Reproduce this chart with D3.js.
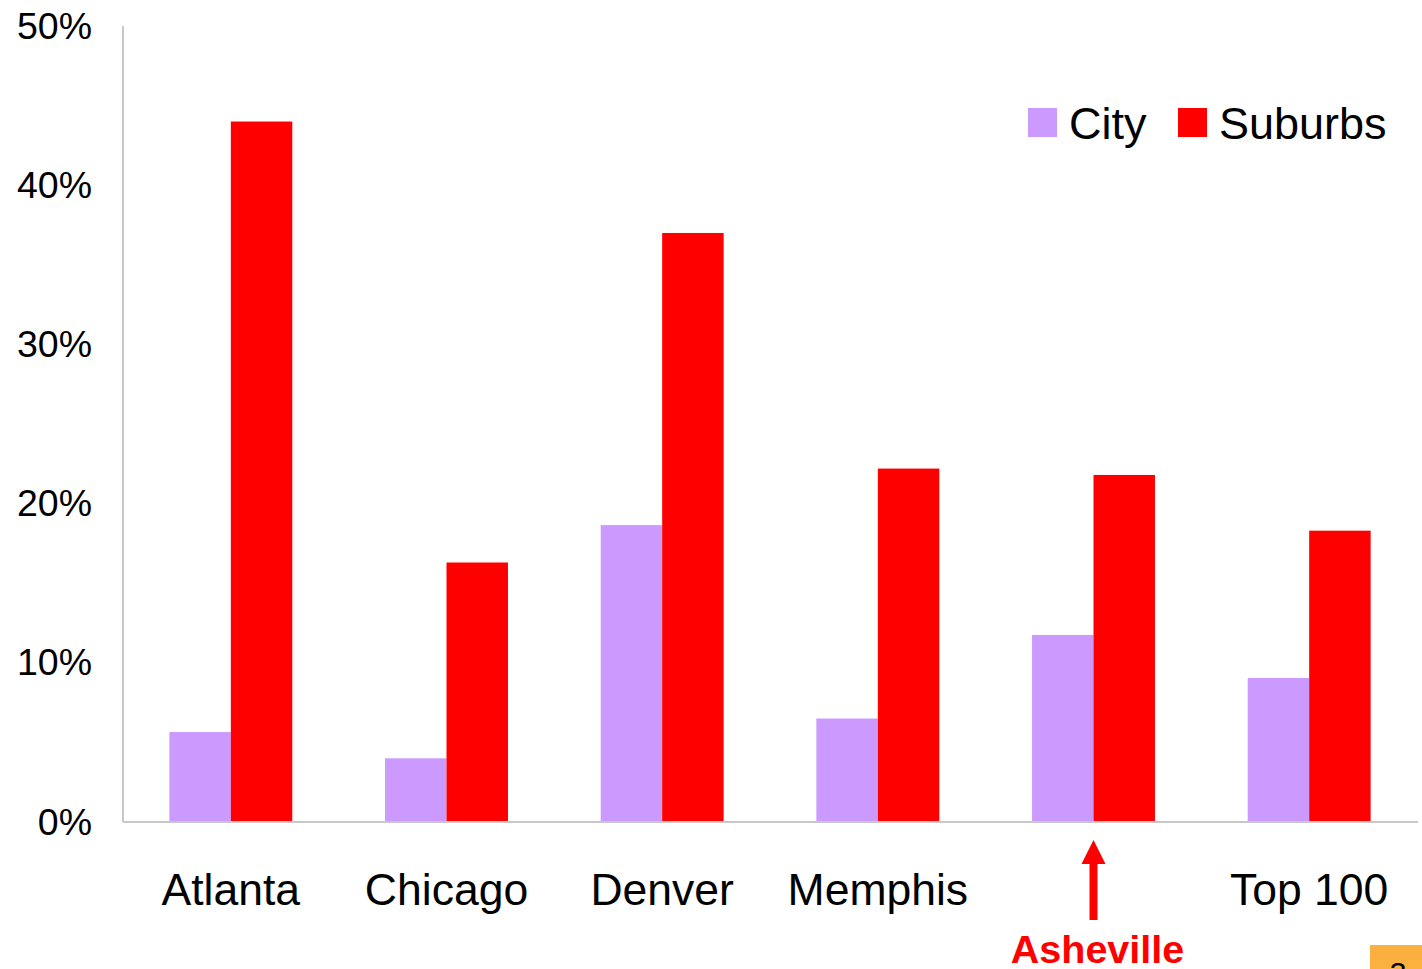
<!DOCTYPE html>
<html>
<head>
<meta charset="utf-8">
<script src="https://cdn.jsdelivr.net/npm/d3@7"></script>
<style>
    body {margin: 0; background: #fff;}
    #chart {font-family: "Liberation Sans", Arial, sans-serif;}
    .y-axis path, .x-axis path {stroke: #c8c8c8; stroke-width: 2px;}
    .y-axis text {font-size: 37.5px; fill: #000;}
    .x-axis text {font-size: 44.5px; fill: #000;}
</style>
</head>
<body>
<div id="chart"></div>
<script>

    let categories = ["Atlanta", "Chicago", "Denver", "Memphis", "Asheville", "Top 100"];
    let axisLabels = ["Atlanta", "Chicago", "Denver", "Memphis", "", "Top 100"];
    let cityValues = [5.65, 4.0, 18.65, 6.5, 11.75, 9.05];
    let suburbValues = [44.0, 16.3, 37.0, 22.2, 21.8, 18.3];
    let seriesNames = ["City", "Suburbs"];
    let yTicks = [0, 10, 20, 30, 40, 50];
    let highlighted = "Asheville";

    let colors = {City: "#cc99ff", Suburbs: "#ff0000"};

    let width = 1422, height = 969;
    let margin = {top: 26, right: 4, bottom: 147, left: 123};
    let innerW = width - margin.left - margin.right,
        innerH = height - margin.top - margin.bottom;

    let data = categories.map(function(c, i) {
        return {cat: c, City: cityValues[i], Suburbs: suburbValues[i]};
    });

    let svg = d3.select("#chart").append("svg")
        .attr("width", width)
        .attr("height", height);

    let g = svg.append("g")
        .attr("transform", "translate(" + margin.left + "," + margin.top + ")");

    let x = d3.scaleBand()
        .domain(categories)
        .range([0, innerW - 1])
        .paddingInner(0.43)
        .paddingOuter(0.215);

    let x1 = d3.scaleBand()
        .domain(seriesNames)
        .range([0, x.bandwidth()]);

    let y = d3.scaleLinear().domain([0, 50]).range([innerH, 0]);

    // y axis
    let yAxis = d3.axisLeft(y)
        .tickValues(yTicks)
        .tickSize(0)
        .tickPadding(31)
        .tickFormat(function(d) { return d + "%"; });

    g.append("g")
        .attr("class", "y-axis")
        .call(yAxis)
        .select(".domain").attr("d", "M0," + innerH + "V0");

    // bars
    let groups = g.selectAll(".grp")
        .data(data)
        .enter().append("g")
        .attr("class", "grp")
        .attr("transform", function(d) { return "translate(" + x(d.cat) + ",0)"; });

    groups.selectAll("rect")
        .data(function(d) { return seriesNames.map(function(s) { return {key: s, value: d[s]}; }); })
        .enter().append("rect")
        .attr("x", function(d) { return x1(d.key); })
        .attr("width", x1.bandwidth())
        .attr("y", function(d) { return y(d.value); })
        .attr("height", function(d) { return innerH - y(d.value); })
        .style("fill", function(d) { return colors[d.key]; });

    // x axis
    let xAxis = d3.axisBottom(x)
        .tickSize(0)
        .tickPadding(51)
        .tickFormat(function(d, i) { return axisLabels[i]; });

    g.append("g")
        .attr("class", "x-axis")
        .attr("transform", "translate(0," + innerH + ")")
        .call(xAxis)
        .select(".domain").attr("d", "M0,0H" + innerW);

    // highlight arrow + label
    let hx = x(highlighted) + x.bandwidth() / 2;
    let ann = g.append("g").attr("transform", "translate(" + hx + "," + innerH + ")");
    ann.append("rect")
        .attr("x", -4).attr("y", 40).attr("width", 8).attr("height", 58)
        .style("fill", "#ff0000");
    ann.append("path")
        .attr("d", "M-12,42L0,18L12,42Z")
        .style("fill", "#ff0000");
    ann.append("text")
        .attr("x", 4)
        .attr("y", 141)
        .attr("text-anchor", "middle")
        .style("font-size", "39.5px")
        .style("font-weight", "bold")
        .style("fill", "#ff0000")
        .text(highlighted);

    // legend
    let legend = svg.append("g").attr("transform", "translate(1028,108)");
    let legendX = [0, 150];
    seriesNames.forEach(function(s, i) {
        let lg = legend.append("g").attr("transform", "translate(" + legendX[i] + ",0)");
        lg.append("rect").attr("width", 29).attr("height", 29).style("fill", colors[s]);
        lg.append("text")
            .attr("x", 41).attr("y", 31)
            .style("font-size", "45px")
            .style("fill", "#000")
            .text(s);
    });

    // page number tab
    svg.append("rect")
        .attr("x", 1370).attr("y", 945).attr("width", 52).attr("height", 24)
        .style("fill", "#fbb040");
    svg.append("text")
        .attr("x", 1398).attr("y", 983)
        .attr("text-anchor", "middle")
        .style("font-size", "30px")
        .style("fill", "#000")
        .text("3");

</script>
</body>
</html>
